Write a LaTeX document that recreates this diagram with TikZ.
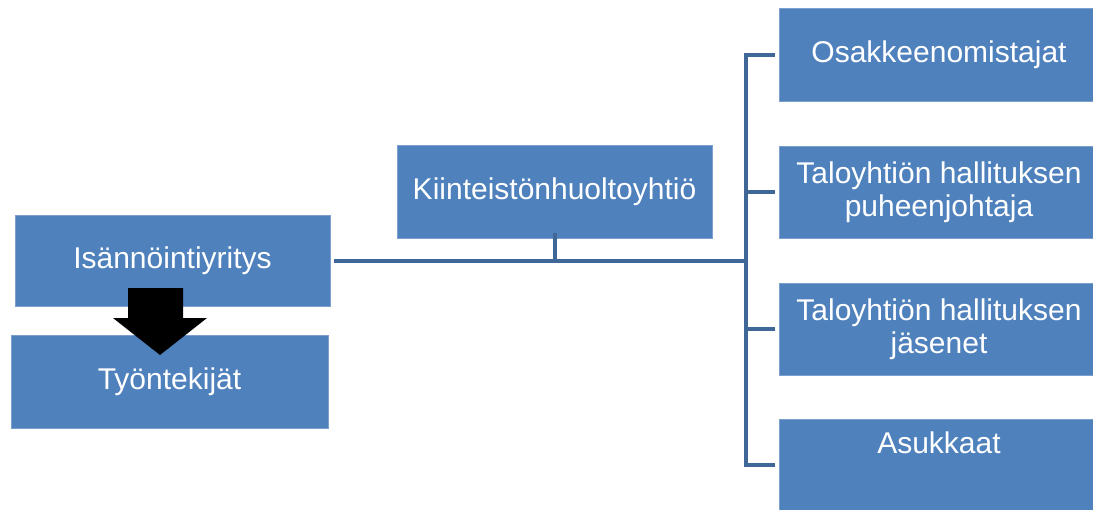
\documentclass[tikz,border=0pt]{standalone}
\usepackage{fontspec}
\setmainfont{Liberation Sans}
\begin{document}
\begin{tikzpicture}[x=1pt,y=-1pt,
  orgbox/.style={fill=boxfill, draw=boxfill!75!white, line width=0.8pt,
    text=white, align=center, inner sep=0pt,
    font=\fontsize{30}{33}\selectfont},
  link/.style={draw=linkcol, line width=4pt},
  blockarrow/.style={fill=black}]
\definecolor{boxfill}{RGB}{79,129,189}
\definecolor{linkcol}{RGB}{63,103,151}

\useasboundingbox (0,0) rectangle (1093,509);
\clip (0,0) rectangle (1093,509);

% left column
\node[orgbox, minimum width=315, minimum height=91] (isa) at (172.5,260.5) {Isännöintiyritys};
\node[orgbox, minimum width=317, minimum height=93] (tyo) at (169.5,381.5) {Työntekijät};

% middle
\node[orgbox, minimum width=315, minimum height=93] (kii) at (554.5,191.5) {Kiinteistönhuoltoyhtiö};

% right column (runs off the right edge)
\node[orgbox, minimum width=320, minimum height=93] (osa) at (939,54.5) {Osakkeenomistajat};
\node[orgbox, minimum width=320, minimum height=92] (pj) at (939,192) {Taloyhtiön hallituksen\\puheenjohtaja};
\node[orgbox, minimum width=320, minimum height=92] (jas) at (939,329) {Taloyhtiön hallituksen\\jäsenet};
\node[orgbox, minimum width=320, minimum height=96, text height=20, text depth=48] (asu) at (939,467) {Asukkaat};

% connector geometry
\coordinate (trunkx) at (745.5,0);
\coordinate (mainy) at (0,261);
\coordinate (join) at (trunkx |- mainy);
\coordinate (start) at ([xshift=4]isa.east |- mainy);
\coordinate (stubtop) at ([yshift=5]kii.south);
\coordinate (stubbot) at (stubtop |- mainy);

\draw[link] (start) -- (join);
\draw[link] (stubtop) -- (stubbot);
\draw[link] ([yshift=-2]trunkx |- osa.west) -- ([yshift=2]trunkx |- asu.west);
\foreach \n in {osa,pj,jas}
  \draw[link] ([xshift=-2]trunkx |- \n.west) -- ([xshift=-4]\n.west);
\draw[link] ([xshift=-2]trunkx |- 0,465) -- ([xshift=-4]asu.west |- 0,465);

% block arrow from Isännöintiyritys down to Työntekijät
\fill[blockarrow] (128,288) -- (183,288) -- (183,318) -- (207,318)
  -- (160,355) -- (113,318) -- (128,318) -- cycle;
\end{tikzpicture}
\end{document}
